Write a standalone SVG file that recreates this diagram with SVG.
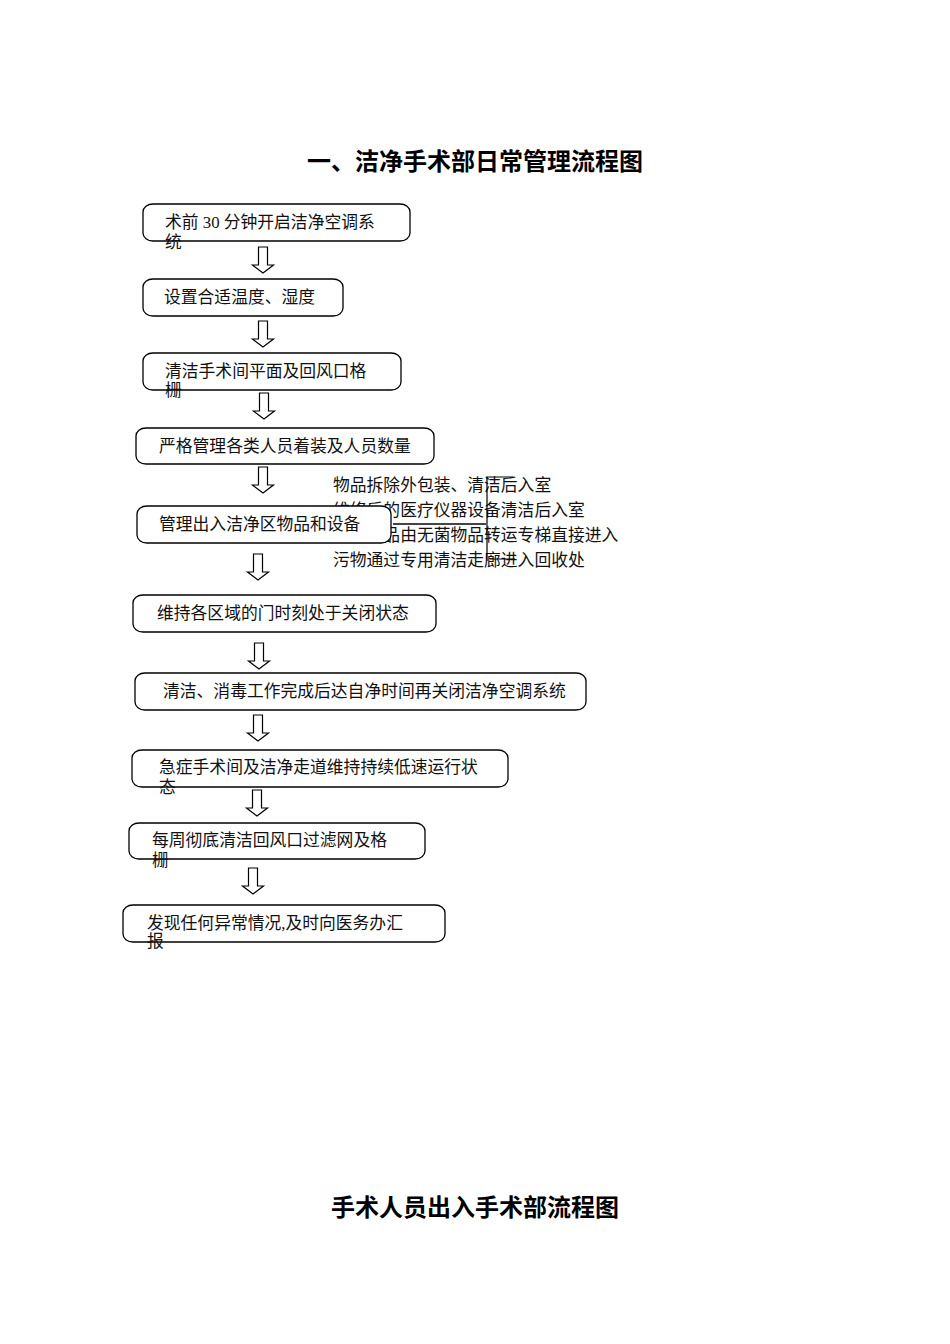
<svg xmlns="http://www.w3.org/2000/svg" width="950" height="1344" viewBox="0 0 950 1344">
<style>
.bg{fill:#ffffff}
.box{fill:#ffffff;stroke:#000000;stroke-width:1.3}
.t{font-family:"Liberation Serif","Noto Sans CJK SC",serif;font-size:16.8px;fill:#111111}
.h{font-family:"Liberation Sans","Noto Sans CJK SC",sans-serif;font-size:24px;font-weight:bold;fill:#000000;text-anchor:middle}
.arr{fill:#ffffff;stroke:#000000;stroke-width:1.2;stroke-linejoin:miter}
.br{fill:none;stroke:#000000;stroke-width:1.2}
.gl{fill:none;stroke:#444444;stroke-width:2}
</style>
<defs>
<path id="ar" d="M-4.5,0 H4.5 V18 H10.5 L0,26 L-10.5,18 H-4.5 Z"/>
</defs>
<rect class="bg" x="0" y="0" width="950" height="1344"/>
<text class="h" x="475" y="170">一、洁净手术部日常管理流程图</text>

<g id="side-notes">
<text class="t" x="333" y="491">物品拆除外包装、清洁后入室</text>
<text class="t" x="333" y="516">维修后的医疗仪器设备清洁后入室</text>
<text class="t" x="333" y="541">无菌物品由无菌物品转运专梯直接进入</text>
<text class="t" x="333" y="566">污物通过专用清洁走廊进入回收处</text>
</g>

<g id="connectors">
<use href="#ar" class="arr" x="263" y="247"/>
<use href="#ar" class="arr" x="263" y="321"/>
<use href="#ar" class="arr" x="264" y="393"/>
<use href="#ar" class="arr" x="263" y="467"/>
<use href="#ar" class="arr" x="258" y="554"/>
<use href="#ar" class="arr" x="259" y="643"/>
<use href="#ar" class="arr" x="258" y="715"/>
<use href="#ar" class="arr" x="257" y="790"/>
<use href="#ar" class="arr" x="253" y="868"/>
</g>

<g id="n1">
<rect class="box" x="143" y="204" width="267" height="37" rx="10" ry="8"/>
<text class="t" x="165" y="228">术前 30 分钟开启洁净空调系</text>
<text class="t" x="165" y="248">统</text>
</g>
<g id="n2">
<rect class="box" x="143" y="279" width="200" height="37" rx="10" ry="8"/>
<text class="t" x="164" y="303">设置合适温度、湿度</text>
</g>
<g id="n3">
<rect class="box" x="143" y="353" width="258" height="37" rx="10" ry="8"/>
<text class="t" x="165" y="377">清洁手术间平面及回风口格</text>
<text class="t" x="165" y="396">栅</text>
</g>
<g id="n4">
<rect class="box" x="136" y="428" width="298" height="36" rx="10" ry="8"/>
<text class="t" x="159" y="452">严格管理各类人员着装及人员数量</text>
</g>
<g id="n5">
<rect class="box" x="137" y="506" width="254" height="37" rx="10" ry="8"/>
<text class="t" x="159" y="530">管理出入洁净区物品和设备</text>
</g>

<g id="bracket">
<path class="br" d="M513,477 H487 V561 M490,559 H515"/>
<path class="gl" d="M393,524 H486"/>
</g>

<g id="n6">
<rect class="box" x="133" y="595" width="303" height="37" rx="10" ry="8"/>
<text class="t" x="157" y="619">维持各区域的门时刻处于关闭状态</text>
</g>
<g id="n7">
<rect class="box" x="135" y="673" width="451" height="37" rx="10" ry="8"/>
<text class="t" x="163" y="697">清洁、消毒工作完成后达自净时间再关闭洁净空调系统</text>
</g>
<g id="n8">
<rect class="box" x="132" y="750" width="376" height="37" rx="10" ry="8"/>
<text class="t" x="159" y="773">急症手术间及洁净走道维持持续低速运行状</text>
<text class="t" x="159" y="793">态</text>
</g>
<g id="n9">
<rect class="box" x="129" y="823" width="296" height="36" rx="10" ry="8"/>
<text class="t" x="152" y="846">每周彻底清洁回风口过滤网及格</text>
<text class="t" x="152" y="866">栅</text>
</g>
<g id="n10">
<rect class="box" x="123" y="905" width="322" height="37" rx="10" ry="8"/>
<text class="t" x="147" y="929">发现任何异常情况,及时向医务办汇</text>
<text class="t" x="147" y="947">报</text>
</g>

<text class="h" x="475" y="1216">手术人员出入手术部流程图</text>
</svg>
